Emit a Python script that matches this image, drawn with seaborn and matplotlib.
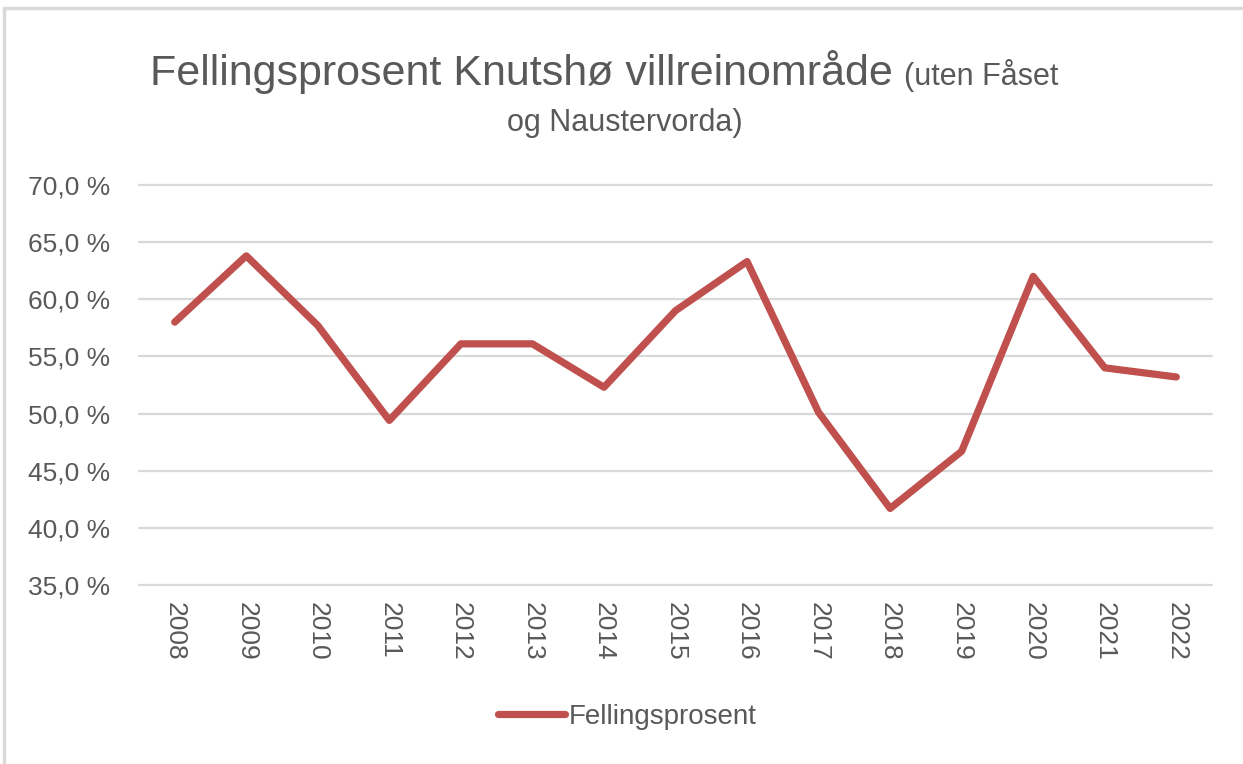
import matplotlib.pyplot as plt
import matplotlib.ticker as mticker
from matplotlib.lines import Line2D
import pandas as pd
import seaborn as sns

# values
years = ["2008", "2009", "2010", "2011", "2012", "2013", "2014", "2015",
         "2016", "2017", "2018", "2019", "2020", "2021", "2022"]
fellingsprosent = [58.0, 63.8, 57.7, 49.4, 56.1, 56.1, 52.3, 59.0,
                   63.3, 50.1, 41.7, 46.7, 62.0, 54.0, 53.2]
series_name = "Fellingsprosent"

df = pd.DataFrame({"År": years, series_name: fellingsprosent})

sns.set_style("white")
plt.rcParams["font.family"] = ["Liberation Sans", "DejaVu Sans"]

text_color = "#595959"
grid_color = "#d9d9d9"
line_color = "#C0504D"

fig = plt.figure(figsize=(12.43, 7.64), dpi=100)
ax = fig.add_axes([0.1118, 0.2343, 0.8633, 0.5236])

sns.lineplot(data=df, x="År", y=series_name, color=line_color, linewidth=5.2,
             label=series_name, sort=False, ax=ax)

ax.set_ylim(35, 70)
ax.set_xlim(-0.5, len(years) - 0.5)
ax.yaxis.set_major_locator(mticker.MultipleLocator(5))
ax.yaxis.set_major_formatter(
    mticker.FuncFormatter(lambda v, p: f"{v:.1f}".replace(".", ",") + " %"))
ax.grid(axis="y", color=grid_color, linewidth=1.6)
ax.set_axisbelow(True)
for gl in ax.get_ygridlines():
    gl.set_clip_on(False)
for s in ax.spines.values():
    s.set_visible(False)

ax.tick_params(axis="y", length=0, pad=21, labelsize=19, labelcolor=text_color)
ax.tick_params(axis="x", length=0, pad=12, labelsize=19, labelcolor=text_color,
               labelrotation=-90)
ax.set_xlabel("")
ax.set_ylabel("")

leg = ax.legend(loc="center", bbox_to_anchor=(0.455, -0.33), frameon=False,
                fontsize=20, handlelength=2.4, handletextpad=0.15)
for t in leg.get_texts():
    t.set_color(text_color)

# title: big main part, smaller parenthetical right after it
t1 = fig.text(0.121, 0.889, "Fellingsprosent Knutshø villreinområde", fontsize=31,
              color=text_color, ha="left", va="baseline")
fig.canvas.draw()
bb = t1.get_window_extent()
x_after = bb.x1 / fig.bbox.width
fig.text(x_after + 0.009, 0.889, "(uten Fåset", fontsize=22, color=text_color,
         ha="left", va="baseline")
fig.text(0.503, 0.8285, "og Naustervorda)", fontsize=22, color=text_color,
         ha="center", va="baseline")

# light chart frame visible at top and left
fig.add_artist(Line2D([0.003, 1.0], [0.99, 0.99], color=grid_color, linewidth=2.5,
                      transform=fig.transFigure))
fig.add_artist(Line2D([0.003, 0.003], [0.0, 0.99], color=grid_color, linewidth=2.5,
                      transform=fig.transFigure))

plt.savefig("out.png", dpi=100)
